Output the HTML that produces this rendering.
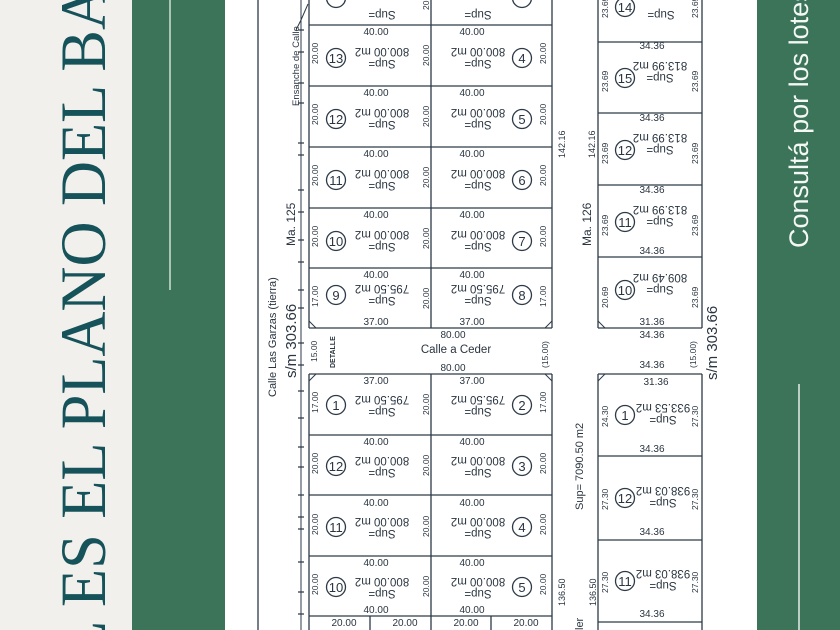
<!DOCTYPE html>
<html><head><meta charset="utf-8"><style>
html,body{margin:0;padding:0;width:840px;height:630px;overflow:hidden;background:#fff}
svg{display:block}
text{font-family:"Liberation Sans",sans-serif;fill:#2a3540}
.d{font-size:10px}
.s{font-size:8.5px}
.u{font-size:11.5px}
.n{font-size:13px}
</style></head><body>
<svg width="840" height="630" viewBox="0 0 840 630" xmlns="http://www.w3.org/2000/svg">
<rect x="0" y="0" width="132" height="630" fill="#f2f0ec"/>
<rect x="132" y="0" width="93" height="630" fill="#3b7459"/>
<line x1="170" y1="0" x2="170" y2="290" stroke="#cfe0d5" stroke-width="1.5"/>
<rect x="757" y="0" width="83" height="630" fill="#3b7459"/>
<line x1="799" y1="384" x2="799" y2="630" stroke="#e6efe9" stroke-width="1.5"/>
<text transform="translate(105,660) rotate(-90)" style="font-family:'Liberation Serif',serif;font-size:65px;fill:#15525a">L</text>
<text transform="translate(105,607) rotate(-90)" textLength="622" lengthAdjust="spacingAndGlyphs" style="font-family:'Liberation Serif',serif;font-size:65px;fill:#15525a">ES EL PLANO DEL BA</text>
<text transform="translate(808,248) rotate(-90)" style="font-size:27px;fill:#f4f7f5">Consultá por los lotes</text>

<g stroke="#2d3a48" fill="none" stroke-width="1.3">
<line x1="258" y1="0" x2="258" y2="630"/>
<line x1="301" y1="0" x2="301" y2="630" stroke-width="1"/>
<line x1="309" y1="0" x2="309" y2="328"/><line x1="431" y1="0" x2="431" y2="328"/><line x1="552" y1="0" x2="552" y2="328"/>
<line x1="309" y1="25" x2="552" y2="25"/><line x1="309" y1="86" x2="552" y2="86"/><line x1="309" y1="147" x2="552" y2="147"/><line x1="309" y1="208" x2="552" y2="208"/><line x1="309" y1="268" x2="552" y2="268"/><line x1="309" y1="328" x2="552" y2="328"/>
<line x1="309" y1="374" x2="309" y2="630"/><line x1="431" y1="374" x2="431" y2="630"/><line x1="552" y1="374" x2="552" y2="630"/>
<line x1="309" y1="374" x2="552" y2="374"/><line x1="309" y1="435" x2="552" y2="435"/><line x1="309" y1="495" x2="552" y2="495"/><line x1="309" y1="556" x2="552" y2="556"/><line x1="309" y1="616" x2="552" y2="616"/>
<line x1="370" y1="616" x2="370" y2="630"/><line x1="491" y1="616" x2="491" y2="630"/>
<line x1="598" y1="0" x2="598" y2="328"/><line x1="702" y1="0" x2="702" y2="328"/>
<line x1="598" y1="42" x2="702" y2="42"/><line x1="598" y1="113" x2="702" y2="113"/><line x1="598" y1="185" x2="702" y2="185"/><line x1="598" y1="257" x2="702" y2="257"/><line x1="598" y1="328" x2="702" y2="328"/>
<line x1="598" y1="374" x2="598" y2="630"/><line x1="702" y1="374" x2="702" y2="630"/>
<line x1="598" y1="374" x2="702" y2="374"/><line x1="598" y1="456" x2="702" y2="456"/><line x1="598" y1="540" x2="702" y2="540"/><line x1="598" y1="622" x2="702" y2="622"/>
<path d="M309 321 L316 328 M552 321 L545 328 M309 381 L316 374 M552 381 L545 374 M598 321 L605 328 M598 381 L605 374" stroke-width="1"/>
<path d="M296 30 L301 20 M301 20 L308 4" stroke-width="1"/>
</g>
<g stroke="#2d3a48" stroke-width="1.2">
<path d="M298 30h6M298 52h6M298 83h6M298 103h6M298 143h6M298 155h6M298 190h6M298 212h6M298 240h6M298 262h6M298 290h6M298 308h6M298 343h6M298 365h6M298 391h6M298 418h6M298 447h6M298 467h6M298 495h6M298 517h6M298 529h6M298 562h6M298 592h6M298 614h6"/>
</g>

<text transform="translate(299,106) rotate(-90)" style="font-size:9.5px">Ensanche de Calle</text>
<text transform="translate(295,246) rotate(-90)" style="font-size:12px">Ma. 125</text>
<text transform="translate(276,397) rotate(-90)" style="font-size:11px">Calle Las Garzas (tierra)</text>
<text transform="translate(296,378) rotate(-90)" style="font-size:15px">s/m 303.66</text>
<text class="s" transform="translate(565,158) rotate(-90)" style="font-size:9px">142.16</text>
<text class="s" transform="translate(595,158) rotate(-90)" style="font-size:9px">142.16</text>
<text transform="translate(591,246) rotate(-90)" style="font-size:12px">Ma. 126</text>
<text transform="translate(583,510) rotate(-90)" style="font-size:11px">Sup= 7090.50 m2</text>
<text class="s" transform="translate(565,606) rotate(-90)" style="font-size:9px">136.50</text>
<text class="s" transform="translate(596,606) rotate(-90)" style="font-size:9px">136.50</text>
<text transform="translate(583,630) rotate(-90)" style="font-size:11px">ler</text>
<text transform="translate(717,380) rotate(-90)" style="font-size:15px">s/m 303.66</text>

<text class="d" x="453" y="338" text-anchor="middle">80.00</text>
<text x="456" y="353" text-anchor="middle" style="font-size:11.5px">Calle a Ceder</text>
<text class="d" x="453" y="371" text-anchor="middle">80.00</text>
<text transform="translate(335,368) rotate(-90)" style="font-size:7px;font-weight:bold">DETALLE</text>
<text class="s" transform="translate(317,362) rotate(-90)">15.00</text>
<text class="s" transform="translate(548,368) rotate(-90)">(15.00)</text>
<text class="s" transform="translate(696,368) rotate(-90)">(15.00)</text>
<text class="d" x="652" y="338" text-anchor="middle">34.36</text>
<text class="d" x="652" y="368" text-anchor="middle">34.36</text>

<circle cx="336" cy="-2" r="9.5" fill="none" stroke="#2d3a48" stroke-width="1.3"/>
<circle cx="522" cy="-2" r="9.5" fill="none" stroke="#2d3a48" stroke-width="1.3"/>
<text class="u" transform="rotate(180 382 8)" x="382" y="5" text-anchor="middle">Sup=</text>
<text class="u" transform="rotate(180 478 8)" x="478" y="5" text-anchor="middle">Sup=</text>
<text class="s" transform="translate(429,10) rotate(-90)">20</text>

<g>
<text class="d" x="376" y="35" text-anchor="middle">40.00</text><text class="d" x="472" y="35" text-anchor="middle">40.00</text>
<text class="s" transform="translate(318,64) rotate(-90)">20.00</text><text class="s" transform="translate(429,66) rotate(-90)">20.00</text><text class="s" transform="translate(546,64) rotate(-90)">20.00</text>
<circle cx="336" cy="58" r="9.5" fill="none" stroke="#2d3a48" stroke-width="1.3"/><text class="n" x="336" y="63" text-anchor="middle">13</text>
<circle cx="522" cy="58" r="9.5" fill="none" stroke="#2d3a48" stroke-width="1.3"/><text class="n" x="522" y="63" text-anchor="middle">4</text>
<g transform="rotate(180 382 57)"><text class="u" x="382" y="54" text-anchor="middle">Sup=</text><text class="u" x="382" y="66" text-anchor="middle">800.00 m2</text></g>
<g transform="rotate(180 478 57)"><text class="u" x="478" y="54" text-anchor="middle">Sup=</text><text class="u" x="478" y="66" text-anchor="middle">800.00 m2</text></g>
</g>
<g transform="translate(0,61)">
<text class="d" x="376" y="35" text-anchor="middle">40.00</text><text class="d" x="472" y="35" text-anchor="middle">40.00</text>
<text class="s" transform="translate(318,64) rotate(-90)">20.00</text><text class="s" transform="translate(429,66) rotate(-90)">20.00</text><text class="s" transform="translate(546,64) rotate(-90)">20.00</text>
<circle cx="336" cy="58" r="9.5" fill="none" stroke="#2d3a48" stroke-width="1.3"/><text class="n" x="336" y="63" text-anchor="middle">12</text>
<circle cx="522" cy="58" r="9.5" fill="none" stroke="#2d3a48" stroke-width="1.3"/><text class="n" x="522" y="63" text-anchor="middle">5</text>
<g transform="rotate(180 382 57)"><text class="u" x="382" y="54" text-anchor="middle">Sup=</text><text class="u" x="382" y="66" text-anchor="middle">800.00 m2</text></g>
<g transform="rotate(180 478 57)"><text class="u" x="478" y="54" text-anchor="middle">Sup=</text><text class="u" x="478" y="66" text-anchor="middle">800.00 m2</text></g>
</g>
<g transform="translate(0,122)">
<text class="d" x="376" y="35" text-anchor="middle">40.00</text><text class="d" x="472" y="35" text-anchor="middle">40.00</text>
<text class="s" transform="translate(318,64) rotate(-90)">20.00</text><text class="s" transform="translate(429,66) rotate(-90)">20.00</text><text class="s" transform="translate(546,64) rotate(-90)">20.00</text>
<circle cx="336" cy="58" r="9.5" fill="none" stroke="#2d3a48" stroke-width="1.3"/><text class="n" x="336" y="63" text-anchor="middle">11</text>
<circle cx="522" cy="58" r="9.5" fill="none" stroke="#2d3a48" stroke-width="1.3"/><text class="n" x="522" y="63" text-anchor="middle">6</text>
<g transform="rotate(180 382 57)"><text class="u" x="382" y="54" text-anchor="middle">Sup=</text><text class="u" x="382" y="66" text-anchor="middle">800.00 m2</text></g>
<g transform="rotate(180 478 57)"><text class="u" x="478" y="54" text-anchor="middle">Sup=</text><text class="u" x="478" y="66" text-anchor="middle">800.00 m2</text></g>
</g>
<g transform="translate(0,183)">
<text class="d" x="376" y="35" text-anchor="middle">40.00</text><text class="d" x="472" y="35" text-anchor="middle">40.00</text>
<text class="s" transform="translate(318,64) rotate(-90)">20.00</text><text class="s" transform="translate(429,66) rotate(-90)">20.00</text><text class="s" transform="translate(546,64) rotate(-90)">20.00</text>
<circle cx="336" cy="58" r="9.5" fill="none" stroke="#2d3a48" stroke-width="1.3"/><text class="n" x="336" y="63" text-anchor="middle">10</text>
<circle cx="522" cy="58" r="9.5" fill="none" stroke="#2d3a48" stroke-width="1.3"/><text class="n" x="522" y="63" text-anchor="middle">7</text>
<g transform="rotate(180 382 57)"><text class="u" x="382" y="54" text-anchor="middle">Sup=</text><text class="u" x="382" y="66" text-anchor="middle">800.00 m2</text></g>
<g transform="rotate(180 478 57)"><text class="u" x="478" y="54" text-anchor="middle">Sup=</text><text class="u" x="478" y="66" text-anchor="middle">800.00 m2</text></g>
</g>
<g transform="translate(0,243)">
<text class="d" x="376" y="35" text-anchor="middle">40.00</text><text class="d" x="472" y="35" text-anchor="middle">40.00</text>
<text class="s" transform="translate(318,64) rotate(-90)">17.00</text><text class="s" transform="translate(429,66) rotate(-90)">20.00</text><text class="s" transform="translate(546,64) rotate(-90)">17.00</text>
<circle cx="336" cy="52" r="9.5" fill="none" stroke="#2d3a48" stroke-width="1.3"/><text class="n" x="336" y="57" text-anchor="middle">9</text>
<circle cx="522" cy="52" r="9.5" fill="none" stroke="#2d3a48" stroke-width="1.3"/><text class="n" x="522" y="57" text-anchor="middle">8</text>
<g transform="rotate(180 382 51)"><text class="u" x="382" y="48" text-anchor="middle">Sup=</text><text class="u" x="382" y="60" text-anchor="middle">795.50 m2</text></g>
<g transform="rotate(180 478 51)"><text class="u" x="478" y="48" text-anchor="middle">Sup=</text><text class="u" x="478" y="60" text-anchor="middle">795.50 m2</text></g>
<text class="d" x="376" y="82" text-anchor="middle">37.00</text><text class="d" x="472" y="82" text-anchor="middle">37.00</text>
</g>

<g transform="translate(0,349)">
<text class="d" x="376" y="35" text-anchor="middle">37.00</text><text class="d" x="472" y="35" text-anchor="middle">37.00</text>
<text class="s" transform="translate(318,64) rotate(-90)">17.00</text><text class="s" transform="translate(429,66) rotate(-90)">20.00</text><text class="s" transform="translate(546,64) rotate(-90)">17.00</text>
<circle cx="336" cy="56" r="9.5" fill="none" stroke="#2d3a48" stroke-width="1.3"/><text class="n" x="336" y="61" text-anchor="middle">1</text>
<circle cx="522" cy="56" r="9.5" fill="none" stroke="#2d3a48" stroke-width="1.3"/><text class="n" x="522" y="61" text-anchor="middle">2</text>
<g transform="rotate(180 382 56)"><text class="u" x="382" y="53" text-anchor="middle">Sup=</text><text class="u" x="382" y="65" text-anchor="middle">795.50 m2</text></g>
<g transform="rotate(180 478 56)"><text class="u" x="478" y="53" text-anchor="middle">Sup=</text><text class="u" x="478" y="65" text-anchor="middle">795.50 m2</text></g>
</g>
<g transform="translate(0,410)">
<text class="d" x="376" y="35" text-anchor="middle">40.00</text><text class="d" x="472" y="35" text-anchor="middle">40.00</text>
<text class="s" transform="translate(318,64) rotate(-90)">20.00</text><text class="s" transform="translate(429,66) rotate(-90)">20.00</text><text class="s" transform="translate(546,64) rotate(-90)">20.00</text>
<circle cx="336" cy="56" r="9.5" fill="none" stroke="#2d3a48" stroke-width="1.3"/><text class="n" x="336" y="61" text-anchor="middle">12</text>
<circle cx="522" cy="56" r="9.5" fill="none" stroke="#2d3a48" stroke-width="1.3"/><text class="n" x="522" y="61" text-anchor="middle">3</text>
<g transform="rotate(180 382 56)"><text class="u" x="382" y="53" text-anchor="middle">Sup=</text><text class="u" x="382" y="65" text-anchor="middle">800.00 m2</text></g>
<g transform="rotate(180 478 56)"><text class="u" x="478" y="53" text-anchor="middle">Sup=</text><text class="u" x="478" y="65" text-anchor="middle">800.00 m2</text></g>
</g>
<g transform="translate(0,471)">
<text class="d" x="376" y="35" text-anchor="middle">40.00</text><text class="d" x="472" y="35" text-anchor="middle">40.00</text>
<text class="s" transform="translate(318,64) rotate(-90)">20.00</text><text class="s" transform="translate(429,66) rotate(-90)">20.00</text><text class="s" transform="translate(546,64) rotate(-90)">20.00</text>
<circle cx="336" cy="56" r="9.5" fill="none" stroke="#2d3a48" stroke-width="1.3"/><text class="n" x="336" y="61" text-anchor="middle">11</text>
<circle cx="522" cy="56" r="9.5" fill="none" stroke="#2d3a48" stroke-width="1.3"/><text class="n" x="522" y="61" text-anchor="middle">4</text>
<g transform="rotate(180 382 56)"><text class="u" x="382" y="53" text-anchor="middle">Sup=</text><text class="u" x="382" y="65" text-anchor="middle">800.00 m2</text></g>
<g transform="rotate(180 478 56)"><text class="u" x="478" y="53" text-anchor="middle">Sup=</text><text class="u" x="478" y="65" text-anchor="middle">800.00 m2</text></g>
</g>
<g transform="translate(0,531)">
<text class="d" x="376" y="35" text-anchor="middle">40.00</text><text class="d" x="472" y="35" text-anchor="middle">40.00</text>
<text class="s" transform="translate(318,64) rotate(-90)">20.00</text><text class="s" transform="translate(429,66) rotate(-90)">20.00</text><text class="s" transform="translate(546,64) rotate(-90)">20.00</text>
<circle cx="336" cy="56" r="9.5" fill="none" stroke="#2d3a48" stroke-width="1.3"/><text class="n" x="336" y="61" text-anchor="middle">10</text>
<circle cx="522" cy="56" r="9.5" fill="none" stroke="#2d3a48" stroke-width="1.3"/><text class="n" x="522" y="61" text-anchor="middle">5</text>
<g transform="rotate(180 382 56)"><text class="u" x="382" y="53" text-anchor="middle">Sup=</text><text class="u" x="382" y="65" text-anchor="middle">800.00 m2</text></g>
<g transform="rotate(180 478 56)"><text class="u" x="478" y="53" text-anchor="middle">Sup=</text><text class="u" x="478" y="65" text-anchor="middle">800.00 m2</text></g>
<text class="d" x="376" y="82" text-anchor="middle">40.00</text><text class="d" x="472" y="82" text-anchor="middle">40.00</text>
</g>
<text class="d" x="344" y="626" text-anchor="middle">20.00</text><text class="d" x="405" y="626" text-anchor="middle">20.00</text><text class="d" x="466" y="626" text-anchor="middle">20.00</text><text class="d" x="526" y="626" text-anchor="middle">20.00</text>

<text class="s" transform="translate(608,18) rotate(-90)">23.69</text><text class="s" transform="translate(698,18) rotate(-90)">23.69</text>
<circle cx="625" cy="7" r="9.5" fill="none" stroke="#2d3a48" stroke-width="1.3"/><text class="n" x="625" y="12" text-anchor="middle">14</text>
<text class="u" transform="rotate(180 661 8)" x="661" y="5" text-anchor="middle">Sup=</text>
<g>
<text class="d" x="652" y="49" text-anchor="middle">34.36</text>
<text class="s" transform="translate(608,92) rotate(-90)">23.69</text><text class="s" transform="translate(698,92) rotate(-90)">23.69</text>
<circle cx="625" cy="78" r="9.5" fill="none" stroke="#2d3a48" stroke-width="1.3"/><text class="n" x="625" y="83" text-anchor="middle">15</text>
<g transform="rotate(180 660 71)"><text class="u" x="660" y="68" text-anchor="middle">Sup=</text><text class="u" x="660" y="80" text-anchor="middle">813.99 m2</text></g>
</g>
<g transform="translate(0,72)">
<text class="d" x="652" y="49" text-anchor="middle">34.36</text>
<text class="s" transform="translate(608,92) rotate(-90)">23.69</text><text class="s" transform="translate(698,92) rotate(-90)">23.69</text>
<circle cx="625" cy="78" r="9.5" fill="none" stroke="#2d3a48" stroke-width="1.3"/><text class="n" x="625" y="83" text-anchor="middle">12</text>
<g transform="rotate(180 660 71)"><text class="u" x="660" y="68" text-anchor="middle">Sup=</text><text class="u" x="660" y="80" text-anchor="middle">813.99 m2</text></g>
</g>
<g transform="translate(0,144)">
<text class="d" x="652" y="49" text-anchor="middle">34.36</text>
<text class="s" transform="translate(608,92) rotate(-90)">23.69</text><text class="s" transform="translate(698,92) rotate(-90)">23.69</text>
<circle cx="625" cy="78" r="9.5" fill="none" stroke="#2d3a48" stroke-width="1.3"/><text class="n" x="625" y="83" text-anchor="middle">11</text>
<g transform="rotate(180 660 71)"><text class="u" x="660" y="68" text-anchor="middle">Sup=</text><text class="u" x="660" y="80" text-anchor="middle">813.99 m2</text></g>
<text class="d" x="652" y="110" text-anchor="middle">34.36</text>
</g>
<g transform="translate(0,216)">
<text class="s" transform="translate(608,92) rotate(-90)">20.69</text><text class="s" transform="translate(698,92) rotate(-90)">23.69</text>
<circle cx="625" cy="74" r="9.5" fill="none" stroke="#2d3a48" stroke-width="1.3"/><text class="n" x="625" y="79" text-anchor="middle">10</text>
<g transform="rotate(180 660 67)"><text class="u" x="660" y="64" text-anchor="middle">Sup=</text><text class="u" x="660" y="76" text-anchor="middle">809.49 m2</text></g>
<text class="d" x="652" y="109" text-anchor="middle">31.36</text>
</g>

<text class="d" x="656" y="385" text-anchor="middle">31.36</text>
<text class="s" transform="translate(608,427) rotate(-90)">24.30</text><text class="s" transform="translate(698,427) rotate(-90)">27.30</text>
<circle cx="625" cy="415" r="9.5" fill="none" stroke="#2d3a48" stroke-width="1.3"/><text class="n" x="625" y="420" text-anchor="middle">1</text>
<g transform="rotate(180 663 413)"><text class="u" x="663" y="410" text-anchor="middle">Sup=</text><text class="u" x="663" y="422" text-anchor="middle">933.53 m2</text></g>
<text class="d" x="652" y="452" text-anchor="middle">34.36</text>
<text class="s" transform="translate(608,510) rotate(-90)">27.30</text><text class="s" transform="translate(698,510) rotate(-90)">27.30</text>
<circle cx="625" cy="498" r="9.5" fill="none" stroke="#2d3a48" stroke-width="1.3"/><text class="n" x="625" y="503" text-anchor="middle">12</text>
<g transform="rotate(180 663 496)"><text class="u" x="663" y="493" text-anchor="middle">Sup=</text><text class="u" x="663" y="505" text-anchor="middle">938.03 m2</text></g>
<text class="d" x="652" y="535" text-anchor="middle">34.36</text>
<text class="s" transform="translate(608,593) rotate(-90)">27.30</text><text class="s" transform="translate(698,593) rotate(-90)">27.30</text>
<circle cx="625" cy="581" r="9.5" fill="none" stroke="#2d3a48" stroke-width="1.3"/><text class="n" x="625" y="586" text-anchor="middle">11</text>
<g transform="rotate(180 663 579)"><text class="u" x="663" y="576" text-anchor="middle">Sup=</text><text class="u" x="663" y="588" text-anchor="middle">938.03 m2</text></g>
<text class="d" x="652" y="617" text-anchor="middle">34.36</text>
</svg>
</body></html>
